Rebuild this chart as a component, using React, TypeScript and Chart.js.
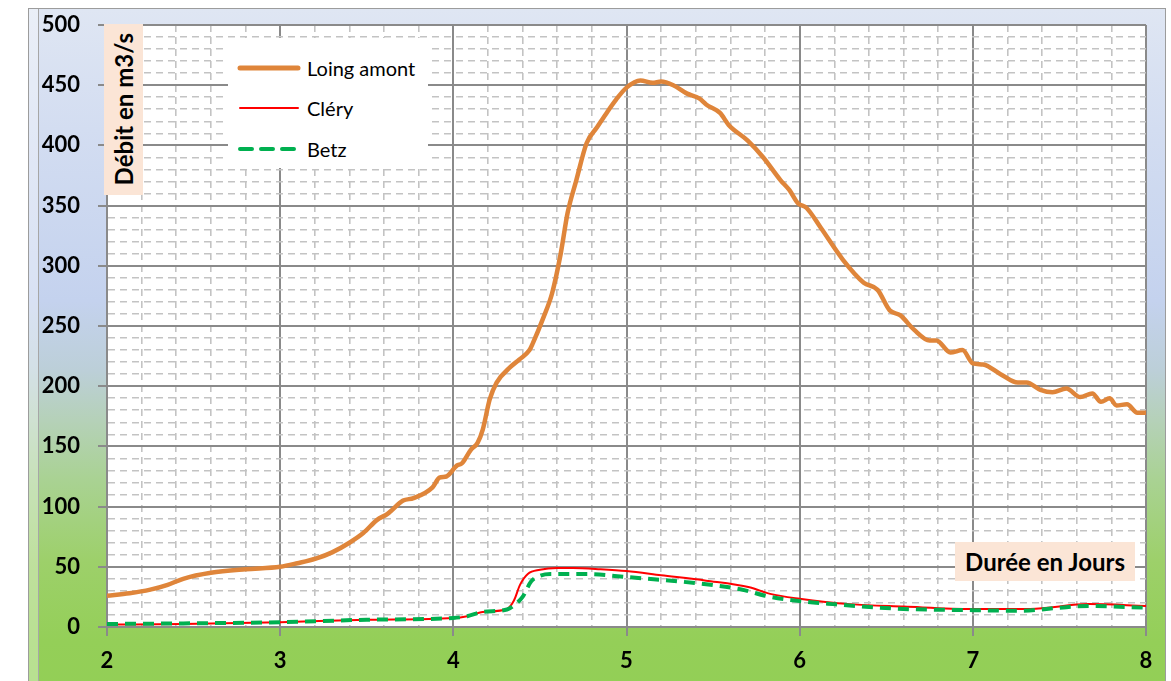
import React, { useEffect, useRef } from "react";
import { Chart, registerables } from "chart.js";
Chart.register(...registerables);

// ---- data ----
const seriesNames = ["Loing amont", "Cléry", "Betz"];
const xAxisTitle = "Durée en Jours";
const yAxisTitle = "Débit en m3/s";

const loingX = [2.00, 2.13, 2.25, 2.35, 2.44, 2.60, 2.80, 3.00, 3.10, 3.21, 3.30, 3.40, 3.48, 3.56, 3.62, 3.71, 3.77, 3.88, 3.92, 3.96, 4.02, 4.05, 4.10, 4.14, 4.17, 4.21, 4.25, 4.33, 4.38, 4.44, 4.46, 4.52, 4.57, 4.62, 4.66, 4.71, 4.77, 4.83, 4.89, 4.94, 5.00, 5.08, 5.15, 5.20, 5.27, 5.35, 5.42, 5.46, 5.54, 5.59, 5.70, 5.79, 5.89, 5.94, 5.99, 6.04, 6.12, 6.25, 6.37, 6.45, 6.52, 6.58, 6.66, 6.75, 6.79, 6.87, 6.94, 7.00, 7.06, 7.16, 7.26, 7.31, 7.39, 7.46, 7.54, 7.62, 7.69, 7.74, 7.79, 7.83, 7.89, 7.95, 8.00];
const loingY = [26, 28, 31, 35, 40, 45, 48, 50, 53, 57, 62, 70, 78, 89, 94, 105, 107, 116, 124, 125, 134, 136, 147, 153, 164, 189, 203, 216, 222, 230, 236, 257, 277, 310, 344, 371, 402, 415, 428, 438, 448, 454, 452, 453, 450, 443, 439, 434, 427, 417, 404, 390, 371, 363, 352, 348, 332, 305, 286, 280, 263, 259, 247, 238, 238, 228, 230, 219, 218, 210, 203, 203, 197, 195, 198, 191, 194, 187, 190, 184, 185, 178, 178];

const cleryX = [2.0, 2.44, 3.0, 3.5, 4.0, 4.08, 4.17, 4.31, 4.35, 4.385, 4.43, 4.5, 4.6, 4.69, 4.85, 5.0, 5.2, 5.46, 5.71, 5.83, 6.0, 6.29, 6.6, 7.0, 7.33, 7.67, 8.0];
const cleryY = [2, 2.5, 4, 6, 7.5, 9, 12.5, 15, 22, 35, 44, 47.5, 49, 49, 48, 46.5, 43, 38.5, 33, 27.5, 23.5, 19, 17, 15, 15, 19, 17.5];

const betzX = [2.0, 2.44, 3.0, 3.5, 4.0, 4.08, 4.17, 4.31, 4.35, 4.40, 4.45, 4.50, 4.56, 4.77, 5.0, 5.46, 5.67, 5.8, 6.0, 6.19, 6.6, 7.0, 7.27, 7.54, 7.67, 8.0];
const betzY = [2.5, 3, 4, 6, 7.5, 9, 12.5, 14.5, 18, 25, 38, 42.5, 44, 44, 41.5, 35.5, 31, 26, 21.5, 19, 15, 14, 13.5, 16.5, 17.5, 16];

const xMin = 2, xMax = 8, xMinorStep = 0.2;
const yMin = 0, yMax = 500, yMinorStep = 10, yMajorStep = 50;

const colors = { loing: "#df853a", clery: "#ff0000", betz: "#00b050" };
const FONT = "Lato, 'Open Sans', sans-serif";

const zip = (xs: number[], ys: number[]) => xs.map((x, i) => ({ x, y: ys[i] }));
const isXMajor = (v: number) => Math.abs(v - Math.round(v)) < 1e-6;
const isYMajor = (v: number) => Math.abs(v / yMajorStep - Math.round(v / yMajorStep)) < 1e-6;

const MAJOR = "#8a8a8a";
const MINOR = "#c3c3c3";

function gridFor(isMajor: (v: number) => boolean) {
  return {
    grid: {
      color: (c: any) => (c.tick && isMajor(c.tick.value) ? MAJOR : MINOR),
      lineWidth: (c: any) => (c.tick && isMajor(c.tick.value) ? 2 : 1.6),
      tickColor: (c: any) => (c.tick && isMajor(c.tick.value) ? MAJOR : "rgba(0,0,0,0)"),
      tickLength: 9,
      tickWidth: 2,
      drawTicks: true,
    },
    border: {
      display: true,
      color: MAJOR,
      width: 2,
      dash: (c: any) => (c.tick && !isMajor(c.tick.value) ? [7, 5] : []),
    },
  };
}

const whitePlot = {
  id: "whitePlot",
  beforeDraw(chart: any) {
    const { ctx, chartArea } = chart;
    ctx.save();
    ctx.fillStyle = "#ffffff";
    ctx.fillRect(chartArea.left, chartArea.top, chartArea.right - chartArea.left, chartArea.bottom - chartArea.top);
    ctx.restore();
  },
};

function LegendLine({ color, width, dash }: { color: string; width: number; dash?: string }) {
  return (
    <svg width={64} height={12} style={{ display: "block" }}>
      <line x1={3} y1={6} x2={61} y2={6} stroke={color} strokeWidth={width} strokeLinecap="round" strokeDasharray={dash} />
    </svg>
  );
}

export default function App() {
  const canvasRef = useRef<HTMLCanvasElement | null>(null);

  useEffect(() => {
    if (!canvasRef.current) return;
    const chart = new Chart(canvasRef.current, {
      type: "line",
      data: {
        datasets: [
          {
            label: seriesNames[0],
            data: zip(loingX, loingY),
            borderColor: colors.loing,
            borderWidth: 4.5,
            pointRadius: 0,
            cubicInterpolationMode: "monotone",
            order: 2,
          },
          {
            label: seriesNames[1],
            data: zip(cleryX, cleryY),
            borderColor: colors.clery,
            borderWidth: 2,
            pointRadius: 0,
            cubicInterpolationMode: "monotone",
            order: 1,
          },
          {
            label: seriesNames[2],
            data: zip(betzX, betzY),
            borderColor: colors.betz,
            borderWidth: 4,
            borderDash: [11, 7],
            pointRadius: 0,
            cubicInterpolationMode: "monotone",
            order: 0,
          },
        ],
      },
      options: {
        animation: false,
        responsive: false,
        maintainAspectRatio: false,
        devicePixelRatio: 1,
        layout: { padding: { top: 16, right: 19, left: 0, bottom: 0 } },
        plugins: { legend: { display: false }, tooltip: { enabled: false } },
        scales: {
          x: {
            type: "linear",
            min: xMin,
            max: xMax,
            ...gridFor(isXMajor),
            ticks: {
              stepSize: xMinorStep,
              autoSkip: false,
              maxRotation: 0,
              padding: 12,
              color: "#000",
              font: { family: FONT, size: 22, weight: "bold" },
              callback: (v: any) => (isXMajor(Number(v)) ? String(Math.round(Number(v))) : ""),
            },
            afterFit: (s: any) => {
              s.height = 54;
              s.paddingLeft = 0;
              s.paddingRight = 0;
            },
          },
          y: {
            type: "linear",
            min: yMin,
            max: yMax,
            ...gridFor(isYMajor),
            ticks: {
              stepSize: yMinorStep,
              autoSkip: false,
              padding: 18,
              color: "#000",
              font: { family: FONT, size: 22, weight: "bold" },
              callback: (v: any) => (isYMajor(Number(v)) ? String(Math.round(Number(v))) : ""),
            },
            afterFit: (s: any) => {
              s.width = 69;
              s.paddingTop = 0;
              s.paddingBottom = 0;
            },
          },
        },
      } as any,
      plugins: [whitePlot],
    });
    return () => chart.destroy();
  }, []);

  const legendItems = [
    { name: seriesNames[0], color: colors.loing, width: 5, dash: undefined as string | undefined, top: 68 },
    { name: seriesNames[1], color: colors.clery, width: 2, dash: undefined, top: 108 },
    { name: seriesNames[2], color: colors.betz, width: 4, dash: "12 9", top: 149 },
  ];

  return (
    <div style={{ position: "absolute", left: 0, top: 0, width: 1171, height: 681, overflow: "hidden", background: "#fff" }}>
      {/* chart frame with gradient */}
      <div
        style={{
          position: "absolute",
          left: 28,
          top: 8,
          width: 1136,
          height: 700,
          border: "1px solid #9c9c9c",
          background:
            "linear-gradient(to bottom, #dfe6f3 0px, #d3ddf1 120px, #c4d2ee 292px, #bccfd8 362px, #b5d1b8 412px, #a9d292 472px, #9dd06a 552px, #94cf58 632px, #92cf55 700px)",
        }}
      />
      <div style={{ position: "absolute", left: 29, top: 9, width: 9, height: 700, background: "rgba(255,255,255,0.35)", borderRight: "1px solid #a6a6a6" }} />
      <canvas
        ref={canvasRef}
        width={1127}
        height={672}
        style={{ position: "absolute", left: 38, top: 9, width: 1127, height: 672 }}
      />
      {/* y axis title */}
      <div
        style={{
          position: "absolute",
          left: 104,
          top: 24,
          width: 39,
          height: 171,
          background: "#fbe5d6",
          display: "flex",
          alignItems: "center",
          justifyContent: "center",
        }}
      >
        <div
          style={{
            writingMode: "vertical-rl",
            transform: "rotate(180deg)",
            fontFamily: FONT,
            fontWeight: 700,
            fontSize: 24,
            color: "#000",
            whiteSpace: "nowrap",
            lineHeight: "39px",
          }}
        >
          {yAxisTitle}
        </div>
      </div>
      {/* legend */}
      <div style={{ position: "absolute", left: 228, top: 38, width: 200, height: 130, background: "#fff" }} />
      {legendItems.map((it) => (
        <div key={it.name} style={{ position: "absolute", left: 237, top: it.top - 12, height: 24, display: "flex", alignItems: "center" }}>
          <LegendLine color={it.color} width={it.width} dash={it.dash} />
          <span style={{ marginLeft: 6, fontFamily: FONT, fontSize: 20, color: "#000", whiteSpace: "nowrap" }}>{it.name}</span>
        </div>
      ))}
      {/* x axis title */}
      <div
        style={{
          position: "absolute",
          left: 955,
          top: 542,
          width: 180,
          height: 39,
          background: "#fbe5d6",
          display: "flex",
          alignItems: "center",
          justifyContent: "center",
          fontFamily: FONT,
          fontWeight: 700,
          fontSize: 24,
          color: "#000",
          whiteSpace: "nowrap",
        }}
      >
        {xAxisTitle}
      </div>
    </div>
  );
}
